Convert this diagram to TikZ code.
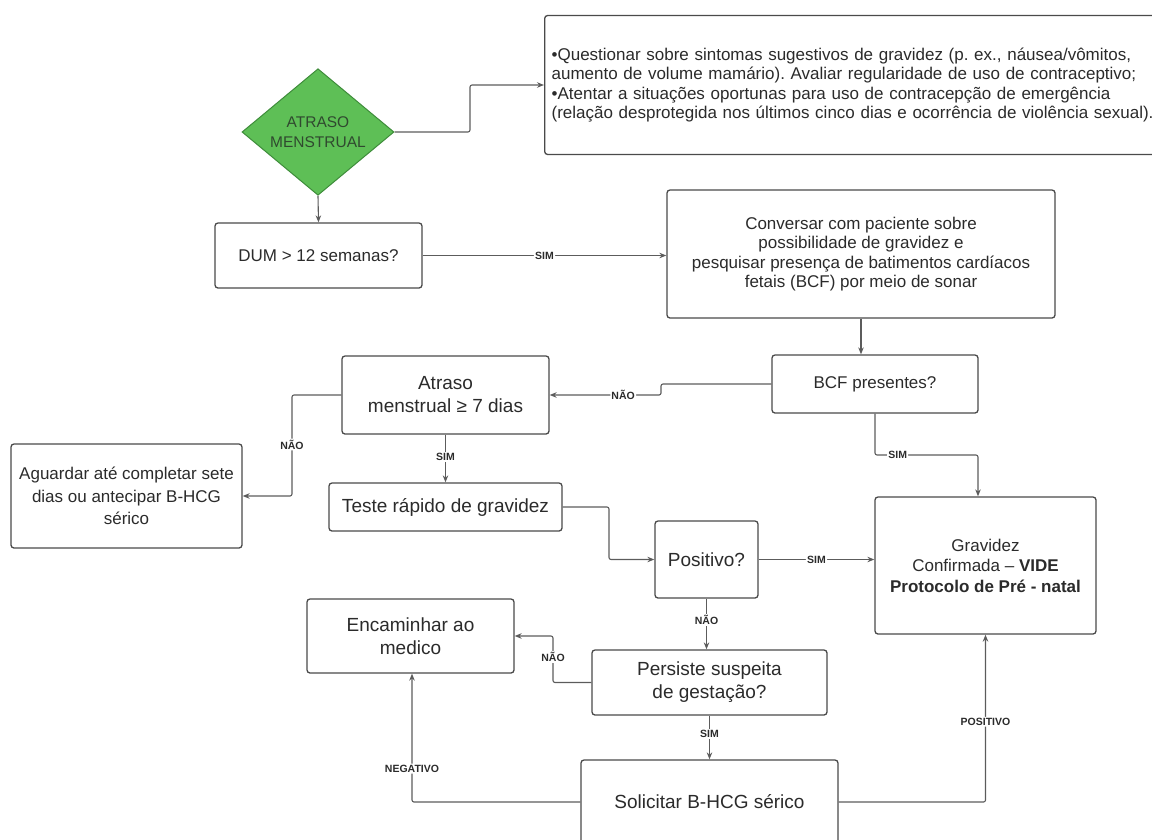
\documentclass[tikz,border=0pt]{standalone}
\usepackage{fontspec}
\setmainfont{Liberation Sans}
\usetikzlibrary{shapes.geometric,arrows.meta}

\definecolor{edgegray}{HTML}{4A4A4A}
\definecolor{wiregray}{HTML}{5C5C5C}
\definecolor{inkgray}{HTML}{2B2B2B}
\definecolor{leafgreen}{HTML}{5EBF56}
\definecolor{leafedge}{HTML}{3E8C3A}
\definecolor{leafink}{HTML}{30492F}

\newcommand\fmid{\fontsize{17}{19.5}\selectfont}
\newcommand\fbig{\fontsize{19}{23}\selectfont}
\newcommand\fdia{\fontsize{15.5}{20}\selectfont}
\newcommand\flab{\fontsize{10.5}{11}\selectfont\bfseries}

\frenchspacing

\begin{document}
\begin{tikzpicture}[x=1pt,y=-1pt,
  box/.style={draw=edgegray, line width=1.3pt, rounded corners=3pt, fill=white,
    align=center, inner sep=2pt, text=inkgray, font=\fmid},
  bigbox/.style={box, font=\fbig},
  wire/.style={draw=wiregray, line width=1.1pt, rounded corners=2pt,
    -{Stealth[length=7pt,width=5.5pt]}},
  tag/.style={fill=white, inner sep=1.2pt, font=\flab, text=inkgray}]

\useasboundingbox (0,0) rectangle (1152,839);

% decision start
\node[shape=diamond, draw=leafedge, line width=1pt, fill=leafgreen,
  minimum width=152pt, minimum height=125pt, inner sep=0pt, align=center,
  text=leafink, font=\fdia] (dia) at (318,132) {ATRASO\\MENSTRUAL};

% guidance box (runs off the right edge)
\node[box, anchor=west, align=left, text width=610pt, inner xsep=7pt,
  minimum height=139pt] (info) at (544,85)
  {•Questionar sobre sintomas sugestivos de gravidez (p. ex., náusea/vômitos,\\
   aumento de volume mamário). Avaliar regularidade de uso de contraceptivo;\\
   •Atentar a situações oportunas para uso de contracepção de emergência\\
   (relação desprotegida nos últimos cinco dias e ocorrência de violência sexual).};

% process boxes
\node[box, minimum width=207pt, minimum height=65pt] (dum) at (318.5,255.5) {DUM > 12 semanas?};
\node[box, minimum width=388pt, minimum height=128pt] (conv) at (861,254)
  {Conversar com paciente sobre\\possibilidade de gravidez e\\pesquisar presença de batimentos cardíacos\\fetais (BCF) por meio de sonar};
\node[box, minimum width=206pt, minimum height=58pt] (bcf) at (875,384) {BCF presentes?};
\node[bigbox, minimum width=207pt, minimum height=78pt] (atr) at (445.5,395) {Atraso\\menstrual ≥ 7 dias};
\node[box, minimum width=231pt, minimum height=104pt, font=\fontsize{17}{22.5}\selectfont] (agu) at (126.5,496)
  {Aguardar até completar sete\\dias ou antecipar B-HCG\\sérico};
\node[bigbox, minimum width=233pt, minimum height=48pt] (teste) at (445.5,507) {Teste rápido de gravidez};
\node[bigbox, minimum width=103pt, minimum height=77pt] (pos) at (706.5,559.5) {Positivo?};
\node[box, minimum width=221pt, minimum height=137pt, font=\fontsize{17}{20.5}\selectfont] (grav) at (985.5,565.5)
  {Gravidez\\Confirmada – \textbf{VIDE}\\\textbf{Protocolo de Pré - natal}};
\node[bigbox, minimum width=235pt, minimum height=65pt] (pers) at (709.5,682.5) {Persiste suspeita\\de gestação?};
\node[bigbox, minimum width=207pt, minimum height=74pt] (enc) at (410.5,636) {Encaminhar ao\\medico};
\node[bigbox, minimum width=257pt, minimum height=84pt] (sol) at (709.5,802) {Solicitar B-HCG sérico};

% connectors
\draw[wire] (dia.east) -- (470,132) -- (470,85) -- (info.west);
\draw[wire] (dia.south) -- (dum.north);
\draw[wire] (dum.east) -- node[tag,pos=0.5]{SIM} (dum.east -| conv.west);
\draw[wire] (conv.south) -- (conv.south |- bcf.north);
\draw[wire] (bcf.west) -- (661,384) -- (661,395) -- node[tag,pos=0.34]{NÃO} (atr.east);
\draw[wire] (atr.west) -- (292,395) -- node[tag,pos=0.49]{NÃO} (292,496) -- (agu.east);
\draw[wire] (atr.south) -- node[tag,pos=0.47]{SIM} (teste.north);
\draw[wire] (teste.east) -- (609,507) -- (609,559.5) -- (pos.west);
\draw[wire] (pos.east) -- node[tag,pos=0.5]{SIM} (pos.east -| grav.west);
\draw[wire] (bcf.south) -- (875,455) -- node[tag,pos=0.22]{SIM} (978,455) -- ([xshift=-7.5pt]grav.north);
\draw[wire] (pos.south) -- node[tag,pos=0.42]{NÃO} (pos.south |- pers.north);
\draw[wire] (pers.west) -- (553,682.5) -- node[tag,pos=0.55]{NÃO} (553,636) -- (enc.east);
\draw[wire] (pers.south) -- node[tag,pos=0.42]{SIM} (sol.north);
\draw[wire] (sol.west) -- (412,802) -- node[tag,pos=0.26]{NEGATIVO} ([xshift=1.5pt]enc.south);
\draw[wire] (sol.east) -- (985.5,802) -- node[tag,pos=0.48]{POSITIVO} (grav.south);

\end{tikzpicture}
\end{document}
